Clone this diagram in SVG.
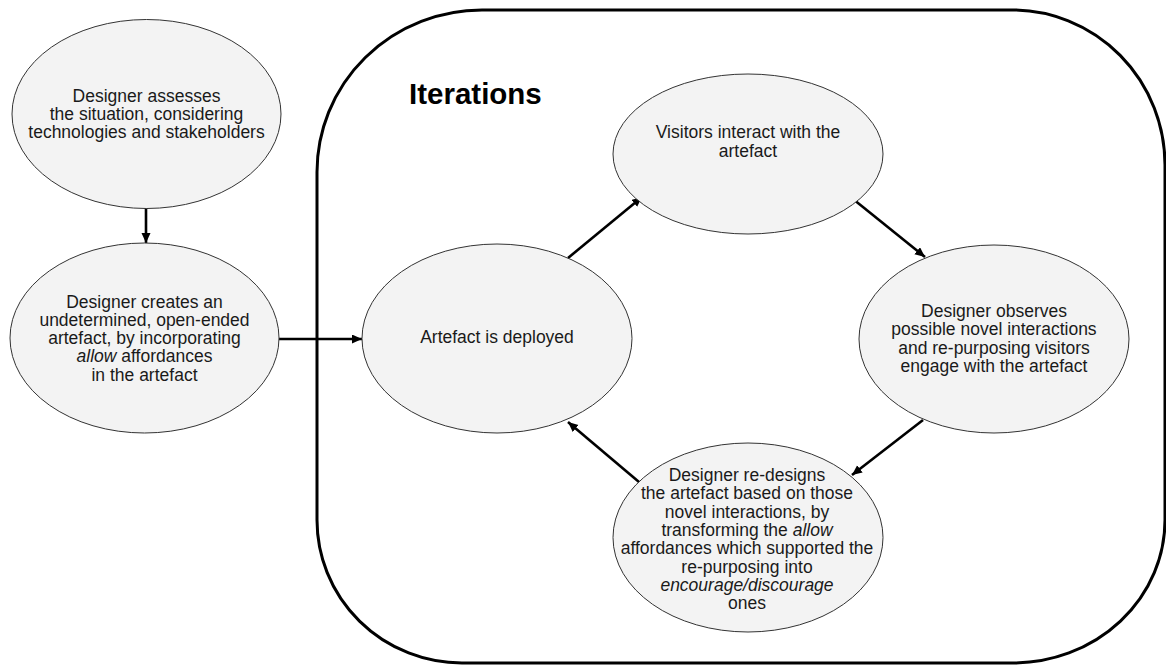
<svg xmlns="http://www.w3.org/2000/svg" width="1166" height="666" viewBox="0 0 1166 666">
<style>
  .node { fill: #f3f3f3; stroke: #333; stroke-width: 1; }
  .txt { font-family: "Liberation Sans", Arial, sans-serif; font-size: 17.5px; fill: #1a1a1a; text-anchor: middle; }
  .conn { stroke: #000; stroke-width: 2.6; fill: none; marker-end: url(#arrow); }
  .title { font-family: "Liberation Sans", Arial, sans-serif; font-size: 29.5px; font-weight: bold; fill: #000; }
</style>
<defs>
  <marker id="arrow" markerUnits="userSpaceOnUse" markerWidth="12" markerHeight="10" refX="10" refY="4.5" orient="auto">
    <path d="M0,0 L10,4.5 L0,9 Z" fill="#000"/>
  </marker>
</defs>
<rect width="1166" height="666" fill="#fff"/>

<g id="iterations-container">
  <path d="M 317,172 A 165,162 0 0 1 482,10 L 1012,10 A 153,155 0 0 1 1165,165 L 1165,520 A 152,143 0 0 1 1013,663 L 462,663 A 145,143 0 0 1 317,520 Z" fill="none" stroke="#000" stroke-width="3"/>
  <text class="title" x="409" y="104">Iterations</text>
</g>

<g id="connectors">
  <line class="conn" x1="146" y1="208" x2="146" y2="243"/>
  <line class="conn" x1="279" y1="339" x2="362" y2="339"/>
  <line class="conn" x1="568" y1="258" x2="642" y2="197"/>
  <line class="conn" x1="853" y1="199" x2="925" y2="257"/>
  <line class="conn" x1="923" y1="420" x2="852" y2="475"/>
  <line class="conn" x1="639" y1="482" x2="568" y2="422"/>
</g>

<g id="node-assess">
  <ellipse class="node" cx="146.5" cy="114" rx="134.5" ry="94.5"/>
  <text class="txt" x="146.5" y="102">Designer assesses</text>
  <text class="txt" x="146.5" y="120">the situation, considering</text>
  <text class="txt" x="146.5" y="138">technologies and stakeholders</text>
</g>

<g id="node-create">
  <ellipse class="node" cx="144.5" cy="338" rx="134.5" ry="95"/>
  <text class="txt" x="144.5" y="307.5">Designer creates an</text>
  <text class="txt" x="144.5" y="325.8">undetermined, open-ended</text>
  <text class="txt" x="144.5" y="344">artefact, by incorporating</text>
  <text class="txt" x="144.5" y="362.3"><tspan font-style="italic">allow</tspan> affordances</text>
  <text class="txt" x="144.5" y="380.6">in the artefact</text>
</g>

<g id="node-deployed">
  <ellipse class="node" cx="497" cy="338.5" rx="135" ry="94.5"/>
  <text class="txt" x="497" y="343">Artefact is deployed</text>
</g>

<g id="node-visitors">
  <ellipse class="node" cx="748" cy="154" rx="135" ry="80"/>
  <text class="txt" x="748" y="138">Visitors interact with the</text>
  <text class="txt" x="748" y="156.5">artefact</text>
</g>

<g id="node-observes">
  <ellipse class="node" cx="994" cy="339" rx="135" ry="94"/>
  <text class="txt" x="994" y="317">Designer observes</text>
  <text class="txt" x="994" y="335.3">possible novel interactions</text>
  <text class="txt" x="994" y="353.6">and re-purposing visitors</text>
  <text class="txt" x="994" y="371.9">engage with the artefact</text>
</g>

<g id="node-redesign">
  <ellipse class="node" cx="748" cy="537.5" rx="135" ry="94.5"/>
  <text class="txt" x="747" y="481">Designer re-designs</text>
  <text class="txt" x="747" y="499.3">the artefact based on those</text>
  <text class="txt" x="747" y="517.6">novel interactions, by</text>
  <text class="txt" x="747" y="535.9">transforming the <tspan font-style="italic">allow</tspan></text>
  <text class="txt" x="747" y="554.2">affordances which supported the</text>
  <text class="txt" x="747" y="572.5">re-purposing into</text>
  <text class="txt" x="747" y="590.8" font-style="italic">encourage/discourage</text>
  <text class="txt" x="747" y="609.1">ones</text>
</g>
</svg>
